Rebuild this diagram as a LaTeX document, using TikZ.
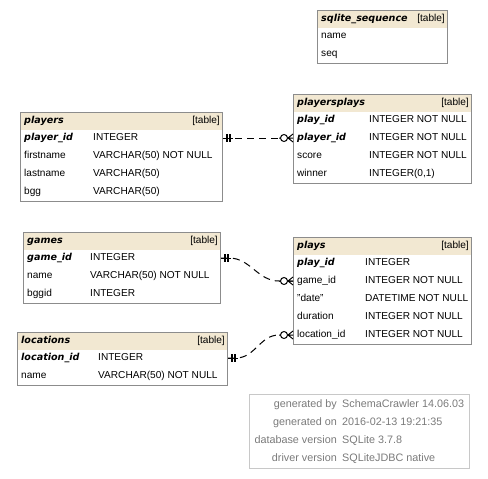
\documentclass[tikz,border=0pt]{standalone}
\usepackage{fontspec}
\setmainfont{Liberation Sans}
\newfontfamily\keyfont{DejaVu Sans Bold Oblique}
\usepackage{tikz}

\definecolor{headfill}{HTML}{F2E8D2}
\definecolor{framegray}{HTML}{8C8C8C}
\definecolor{legendgray}{HTML}{C8C8C8}
\definecolor{legendtext}{HTML}{7A7A7A}

\tikzset{
  tablebox/.style={draw=framegray, fill=white, line width=1pt, anchor=north west, inner sep=0pt,
    path picture={\fill[headfill] (path picture bounding box.north west)
      rectangle ([yshift=-17pt]path picture bounding box.north east);}},
  cell/.style={inner sep=0pt, text height=7.5pt, text depth=2.5pt, font=\fontsize{10.1}{12}\selectfont},
  col/.style={cell},
  keycol/.style={cell, font=\keyfont\fontsize{9.6}{12}\selectfont},
  legendcell/.style={cell, text=legendtext, font=\fontsize{10.8}{12}\selectfont},
  fkline/.style={line width=1pt, dash pattern=on 7pt off 5pt},
  onemark/.pic={\draw[line width=1pt] (0,0) -- (10,0);
    \draw[line width=1.8pt] (4,-4) -- (4,4) (7,-4) -- (7,4);},
  manymark/.pic={\draw[line width=1pt] (0,4) -- (5,0) -- (0,-4) (0,0) -- (5,0) (12.5,0) -- (14,0);
    \draw[line width=1pt, fill=white] (9,0) circle (3.5pt);}
}

% title, [table] tag and one line per column
\newcommand{\tablerows}[4]{%
  \node[keycol, anchor=west] at ([xshift=4pt,yshift=-8.5pt]#1.north west) {#3};
  \node[col, anchor=east] at ([xshift=-3pt,yshift=-8.5pt]#1.north east) {[table]};
  \foreach \cname/\ctype/\cstyle [count=\i, evaluate=\i as \yy using -8-18*\i] in {#4} {
    \node[\cstyle, anchor=west] (#1-\i) at ([xshift=4pt,yshift=\yy pt]#1.north west) {\cname};
    \node[col, anchor=west] at ([xshift=#2,yshift=\yy pt]#1.north west) {\ctype};
  }}

\begin{document}
\begin{tikzpicture}[x=1pt, y=-1pt]
  \useasboundingbox (0,0) rectangle (488,479);

  % tables
  \node[tablebox, minimum width=130pt, minimum height=53pt] (sqliteseq) at (317,10) {};
  \tablerows{sqliteseq}{0pt}{sqlite\_sequence}{name//col, seq//col}

  \node[tablebox, minimum width=202pt, minimum height=89pt] (players) at (20,112) {};
  \tablerows{players}{73pt}{players}{player\_id/INTEGER/keycol,
    firstname/VARCHAR(50) NOT NULL/col, lastname/VARCHAR(50)/col, bgg/VARCHAR(50)/col}

  \node[tablebox, minimum width=178pt, minimum height=89pt] (playersplays) at (293,94) {};
  \tablerows{playersplays}{76pt}{playersplays}{play\_id/INTEGER NOT NULL/keycol,
    player\_id/INTEGER NOT NULL/keycol, score/INTEGER NOT NULL/col, winner/{INTEGER(0,1)}/col}

  \node[tablebox, minimum width=197pt, minimum height=71pt] (games) at (23,232) {};
  \tablerows{games}{67pt}{games}{game\_id/INTEGER/keycol,
    name/VARCHAR(50) NOT NULL/col, bggid/INTEGER/col}

  \node[tablebox, minimum width=178pt, minimum height=107pt] (plays) at (293,237) {};
  \tablerows{plays}{72pt}{plays}{play\_id/INTEGER/keycol, game\_id/INTEGER NOT NULL/col,
    "date"/DATETIME NOT NULL/col, duration/INTEGER NOT NULL/col, location\_id/INTEGER NOT NULL/col}

  \node[tablebox, minimum width=210pt, minimum height=53pt] (locations) at (17,332) {};
  \tablerows{locations}{81pt}{locations}{location\_id/INTEGER/keycol, name/VARCHAR(50) NOT NULL/col}

  % foreign keys
  \draw[fkline] (players-1 -| players.east) -- (playersplays-2 -| playersplays.west);
  \pic at (players-1 -| players.east) {onemark};
  \pic[xscale=-1] at (playersplays-2 -| playersplays.west) {manymark};

  \draw[fkline] (games-1 -| games.east) -- ++(8,0) to[out=0, in=180]
    ([xshift=-14pt]plays-2 -| plays.west) -- (plays-2 -| plays.west);
  \pic at (games-1 -| games.east) {onemark};
  \pic[xscale=-1] at (plays-2 -| plays.west) {manymark};

  \draw[fkline] (locations-1 -| locations.east) -- ++(8,0) to[out=0, in=180]
    ([xshift=-14pt]plays-5 -| plays.west) -- (plays-5 -| plays.west);
  \pic at (locations-1 -| locations.east) {onemark};
  \pic[xscale=-1] at (plays-5 -| plays.west) {manymark};

  % legend
  \node[draw=legendgray, line width=1pt, anchor=north west, inner sep=0pt,
    minimum width=220pt, minimum height=74pt] (legend) at (249,394) {};
  \foreach \lkey/\lval [count=\i, evaluate=\i as \yy using 7-18*\i] in {generated by/SchemaCrawler 14.06.03,
      generated on/2016-02-13 19:21:35, database version/SQLite 3.7.8, driver version/SQLiteJDBC native} {
    \node[legendcell, anchor=east] at ([xshift=88pt,yshift=\yy pt]legend.north west) {\lkey};
    \node[legendcell, anchor=west] at ([xshift=93pt,yshift=\yy pt]legend.north west) {\lval};
  }
\end{tikzpicture}
\end{document}
